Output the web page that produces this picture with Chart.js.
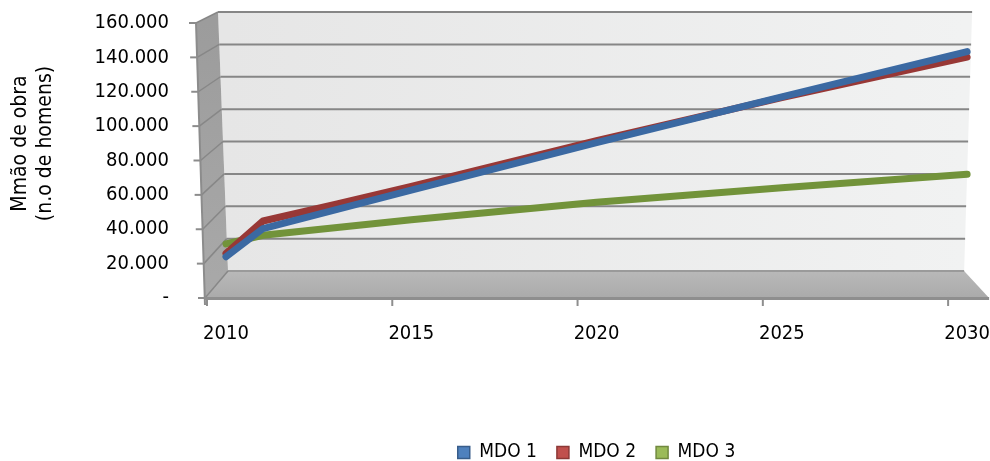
<!DOCTYPE html>
<html>
<head>
<meta charset="utf-8">
<script src="https://cdn.jsdelivr.net/npm/chart.js@4.4.1/dist/chart.umd.min.js"></script>
<style>
  html, body { margin: 0; padding: 0; background: #fff; }
  #c { display: block; }
</style>
</head>
<body>
<canvas id="c" width="990" height="461"></canvas>
<script>
// ---- data ----
const years = [2010, 2011, 2013, 2015, 2020, 2025, 2030];
const mdo1 = [24000, 40400, 51600, 62800, 90400, 117000, 143400];
const mdo2 = [26000, 44800, 54700, 64900, 91600, 116600, 140200];
const mdo3 = [31500, 36500, 41000, 45500, 55700, 64200, 72000];
const seriesNames = ['MDO 1', 'MDO 2', 'MDO 3'];

const xTicks = [2010, 2015, 2020, 2025, 2030];
const xTickLabels = ['2010', '2015', '2020', '2025', '2030'];
const yTickLabels = ['-', '20.000', '40.000', '60.000', '80.000', '100.000', '120.000', '140.000', '160.000'];
const yTitle = ['Mmão de obra', '(n.o de homens)'];

// ---- styles ----
const FONT = "'DejaVu Sans Condensed', 'Liberation Sans', sans-serif";
const lineColors = ['#3b69a2', '#983836', '#72933a'];
const legendFills = ['#4f81bd', '#c0504d', '#9bbb59'];
const legendStrokes = ['#385d8a', '#8c3836', '#71893f'];
const HIDDEN = 'rgba(0,0,0,0)';

Chart.defaults.font.family = FONT;
Chart.defaults.color = '#000';

const toPoints = vals => years.map((yr, i) => ({ x: yr, y: vals[i] }));

// 3D box: side wall, back wall and floor drawn around the plot
const box3d = {
  id: 'box3d',
  beforeDraw(chart) {
    const { ctx, width, height } = chart;
    ctx.save();
    ctx.fillStyle = '#fff';
    ctx.fillRect(0, 0, width, height);
    ctx.restore();
  },
  afterLayout(chart) {
    const lg = chart.legend;
    lg.left += 112; lg.right += 112;
    lg.top += 11; lg.bottom += 11;
    chart.scales.y.bottom -= 34;   // centres the axis title a little higher
  },
  beforeDatasetsDraw(chart) {
    const { ctx, chartArea: a, scales: { x, y } } = chart;
    const L = a.left, R = a.right, T = a.top, B = a.bottom;
    const fx = f => L - 21 - 9 * f;                 // front-left edge
    const bx = f => L + 2 - 10 * f;                 // back-left edge
    const rx = f => R - 3 + 8 * f;                  // back-right edge
    const fy = f => B + (T - B) * f;                // front height
    const by = f => (B - 27) + ((T - 11) - (B - 27)) * f; // back height
    const frac = v => (B - y.getPixelForValue(v)) / (B - T);

    ctx.save();

    // back wall
    let g = ctx.createLinearGradient(bx(0), 0, rx(0), 0);
    g.addColorStop(0, '#e6e6e6');
    g.addColorStop(1, '#f1f2f2');
    ctx.fillStyle = g;
    ctx.beginPath();
    ctx.moveTo(bx(0), by(0)); ctx.lineTo(bx(1), by(1));
    ctx.lineTo(rx(1), by(1)); ctx.lineTo(rx(0), by(0));
    ctx.closePath(); ctx.fill();

    // side wall
    g = ctx.createLinearGradient(0, T, 0, B);
    g.addColorStop(0, '#9c9c9c');
    g.addColorStop(1, '#a9a9a9');
    ctx.fillStyle = g;
    ctx.beginPath();
    ctx.moveTo(fx(0), fy(0)); ctx.lineTo(fx(1), fy(1));
    ctx.lineTo(bx(1), by(1)); ctx.lineTo(bx(0), by(0));
    ctx.closePath(); ctx.fill();

    // floor
    g = ctx.createLinearGradient(0, by(0), 0, B);
    g.addColorStop(0, '#b9b9b9');
    g.addColorStop(1, '#aaaaaa');
    ctx.fillStyle = g;
    ctx.beginPath();
    ctx.moveTo(fx(0), B); ctx.lineTo(bx(0), by(0));
    ctx.lineTo(rx(0), by(0)); ctx.lineTo(R + 22, B);
    ctx.closePath(); ctx.fill();

    // gridlines on the back wall and the side wall, ticks on the front edge
    y.ticks.forEach(t => {
      const f = frac(t.value);
      ctx.lineWidth = 2;
      ctx.strokeStyle = f === 0 ? '#9a9a9a' : '#868686';
      ctx.beginPath();
      ctx.moveTo(bx(f), by(f)); ctx.lineTo(rx(f), by(f));
      ctx.stroke();

      ctx.lineWidth = 1.5;
      ctx.strokeStyle = '#878787';
      ctx.beginPath();
      ctx.moveTo(fx(f), fy(f)); ctx.lineTo(bx(f), by(f));
      ctx.stroke();

      ctx.lineWidth = 2;
      ctx.strokeStyle = '#8c8c8c';
      ctx.beginPath();
      ctx.moveTo(fx(f) - 7, fy(f)); ctx.lineTo(fx(f), fy(f));
      ctx.stroke();
    });

    // front-left edge
    ctx.lineWidth = 2;
    ctx.strokeStyle = '#8c8c8c';
    ctx.beginPath();
    ctx.moveTo(fx(1), T); ctx.lineTo(fx(0), B + 7);
    ctx.stroke();

    // floor front edge
    ctx.lineWidth = 3;
    ctx.strokeStyle = '#8e8e8e';
    ctx.beginPath();
    ctx.moveTo(fx(0), B + 0.5); ctx.lineTo(R + 22, B + 0.5);
    ctx.stroke();

    // category tick marks under the floor
    ctx.lineWidth = 2;
    xTicks.forEach(v => {
      const px = x.getPixelForValue(v) - 19;
      ctx.beginPath();
      ctx.moveTo(px, B + 2); ctx.lineTo(px, B + 8);
      ctx.stroke();
    });

    ctx.restore();
  }
};

const datasets = [mdo1, mdo2, mdo3].map((vals, i) => ({
  label: seriesNames[i],
  data: toPoints(vals),
  borderColor: lineColors[i],
  backgroundColor: legendFills[i],
  borderWidth: 7,
  borderCapStyle: 'round',
  borderJoinStyle: 'round',
  pointRadius: 0,
  pointHoverRadius: 0,
  tension: 0,
  clip: false
}));

new Chart(document.getElementById('c'), {
  type: 'line',
  data: { datasets },
  options: {
    responsive: false,
    animation: false,
    events: [],
    layout: { padding: { top: 23, right: 21, left: 0, bottom: 0 } },
    plugins: {
      tooltip: { enabled: false },
      legend: {
        position: 'bottom',
        labels: {
          font: { size: 19 },
          color: '#000',
          boxWidth: 12,
          boxHeight: 12,
          padding: 20,
          generateLabels(chart) {
            return chart.data.datasets.map((ds, i) => ({
              text: ds.label,
              fillStyle: legendFills[i],
              strokeStyle: legendStrokes[i],
              lineWidth: 1.5,
              hidden: false,
              datasetIndex: i,
              fontColor: '#000'
            }));
          }
        }
      }
    },
    scales: {
      x: {
        type: 'linear',
        min: 2010,
        max: 2030,
        grid: { display: true, drawOnChartArea: false, drawTicks: true, tickLength: 24, tickColor: HIDDEN, color: HIDDEN },
        border: { display: false },
        ticks: {
          stepSize: 5,
          padding: 0,
          maxRotation: 0,
          autoSkip: false,
          font: { size: 20 },
          color: '#000',
          callback: v => {
            const i = xTicks.indexOf(v);
            return i >= 0 ? xTickLabels[i] : '';
          }
        },
        afterFit: s => { s.height = 114; }
      },
      y: {
        min: 0,
        max: 160000,
        grid: { display: true, drawOnChartArea: false, drawTicks: true, tickLength: 57, tickColor: HIDDEN, color: HIDDEN },
        border: { display: false },
        ticks: {
          stepSize: 20000,
          padding: 0,
          font: { size: 20 },
          color: '#000',
          callback: v => yTickLabels[Math.round(v / 20000)]
        },
        title: {
          display: true,
          text: yTitle,
          color: '#000',
          font: { size: 21, lineHeight: 1.2 },
          padding: { top: 8, bottom: 0 }
        },
        afterFit: s => { s.width = 226; }
      }
    }
  },
  plugins: [box3d]
});
</script>
</body>
</html>
